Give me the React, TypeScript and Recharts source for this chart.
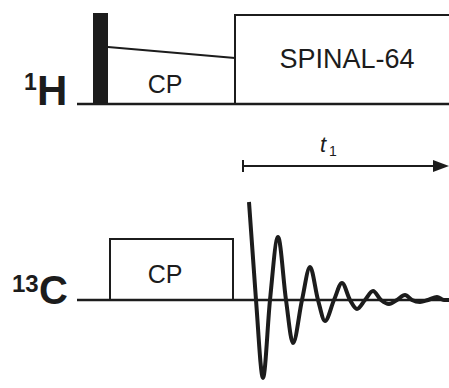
import { ComposedChart, Line, XAxis, YAxis, ReferenceArea, ReferenceLine } from "recharts";

const W = 449;
const H = 388;
const INK = "#1c1c1c";
const FONT = "'Liberation Sans', Arial, Helvetica, sans-serif";

// time axis of the sequence (arbitrary units), amplitudes relative to each channel's baseline
const baselineTimes = [77, 449];

// 1H channel
const pulse90 = { start: 93, end: 108, amp: 91 };
const cpRampTimes = [108, 235];
const cpRampAmps = [57, 46];
const spinalTimes = [235, 235, 449];
const spinalAmps = [0, 89, 89];

// 13C channel
const cpBoxTimes = [110, 110, 233, 233];
const cpBoxAmps = [0, 61, 61, 0];

const fidTimes = [249, 256, 263, 270, 278, 286, 293, 302, 310, 318, 325, 334, 342, 350, 357, 365, 373, 381, 389, 397, 405, 412, 420, 428, 437, 444, 449];
const fidAmps = [98, 0, -78, 0, 63, 0, -43, 0, 33, 0, -21, 0, 17, 0, -9, 0, 9, 0, -4, 0, 5, 0, -2, 0, 3, 0, 0];

// acquisition period t1
const t1Span = [243, 449];
const t1Level = -62;

const zip = (ts: number[], as: number[]) => ts.map((t, i) => ({ t, a: as[i] }));

const hBase = zip(baselineTimes, [0, 0]);
const cBase = zip(baselineTimes, [0, 0]);
const cpRamp = zip(cpRampTimes, cpRampAmps);
const spinal = zip(spinalTimes, spinalAmps);
const cpBox = zip(cpBoxTimes, cpBoxAmps);
const fid = zip(fidTimes, fidAmps);

function Arrow(props: any) {
    const { x1, y1, x2, y2 } = props;
    return (
        <g>
            <line x1={x1} y1={y1} x2={x2 - 10} y2={y2} stroke={INK} strokeWidth={2} />
            <line x1={x1} y1={y1 - 6} x2={x1} y2={y1 + 6} stroke={INK} strokeWidth={2} />
            <polygon points={`${x2 - 16},${y2 - 6} ${x2},${y2} ${x2 - 16},${y2 + 6}`} fill={INK} />
        </g>
    );
}

const lineProps = { type: "linear" as const, stroke: INK, dot: false, activeDot: false, isAnimationActive: false };

export default function App() {
    return (
        <div style={{ position: "absolute", left: 0, top: 0, width: W, height: H, background: "#fff" }}>
            <ComposedChart width={W} height={H} margin={{ top: 0, right: 0, bottom: 0, left: 0 }}>
                <XAxis type="number" dataKey="t" domain={[0, W]} hide allowDataOverflow />
                <YAxis yAxisId="H" type="number" domain={[-284, 104]} hide allowDataOverflow />
                <YAxis yAxisId="C" type="number" domain={[-88, 300]} hide allowDataOverflow />

                <ReferenceArea
                    yAxisId="H"
                    x1={pulse90.start}
                    x2={pulse90.end}
                    y1={0}
                    y2={pulse90.amp}
                    fill={INK}
                    fillOpacity={1}
                    stroke="none"
                    ifOverflow="visible"
                />

                <Line {...lineProps} yAxisId="H" data={hBase} dataKey="a" strokeWidth={2.5} />
                <Line {...lineProps} yAxisId="H" data={cpRamp} dataKey="a" strokeWidth={2} />
                <Line {...lineProps} yAxisId="H" data={spinal} dataKey="a" strokeWidth={2} />

                <Line {...lineProps} yAxisId="C" data={cBase} dataKey="a" strokeWidth={2.5} />
                <Line {...lineProps} yAxisId="C" data={cpBox} dataKey="a" strokeWidth={2} />
                <Line {...lineProps} yAxisId="C" data={fid} dataKey="a" type="monotoneX" strokeWidth={4} />

                <ReferenceLine
                    yAxisId="H"
                    segment={[{ x: t1Span[0], y: t1Level }, { x: t1Span[1], y: t1Level }]}
                    shape={Arrow}
                    ifOverflow="visible"
                />

                <text x={24} y={90} fontFamily={FONT} fontWeight="bold" fontSize={23} fill={INK}>1</text>
                <text x={37} y={105} fontFamily={FONT} fontWeight="bold" fontSize={42} fill={INK}>H</text>
                <text x={12} y={292} fontFamily={FONT} fontWeight="bold" fontSize={24} fill={INK}>13</text>
                <text x={39} y={304} fontFamily={FONT} fontWeight="bold" fontSize={40} fill={INK}>C</text>

                <text x={165} y={93} textAnchor="middle" fontFamily={FONT} fontSize={25} fill={INK}>CP</text>
                <text x={165} y={283} textAnchor="middle" fontFamily={FONT} fontSize={25} fill={INK}>CP</text>
                <text x={347} y={68} textAnchor="middle" fontFamily={FONT} fontSize={27} fill={INK}>SPINAL-64</text>

                <text x={320} y={152} fontFamily={FONT} fontStyle="italic" fontSize={22} fill={INK}>t</text>
                <text x={329} y={156} fontFamily={FONT} fontSize={14} fill={INK}>1</text>
            </ComposedChart>
        </div>
    );
}
